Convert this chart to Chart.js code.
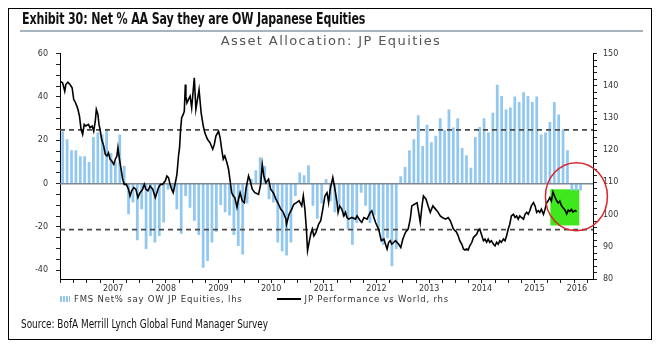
<!DOCTYPE html>
<html>
<head>
<meta charset="utf-8">
<script src="https://cdn.jsdelivr.net/npm/chart.js@4.4.1/dist/chart.umd.min.js"></script>
<style>
  html, body { margin: 0; padding: 0; background: #fff; }
  .page { position: relative; width: 662px; height: 346px; overflow: hidden; }
  .frame { position: absolute; left: 8px; top: 8px; width: 644px; height: 332px; border: 1px solid #000; box-sizing: border-box; }
  .title { position: absolute; left: 22px; top: 9px; font: bold 16px 'Liberation Sans Narrow', 'DejaVu Sans Condensed', sans-serif; color: #111; white-space: nowrap; transform: scaleX(0.77); transform-origin: 0 0; letter-spacing: -0.2px; }
  .rule { position: absolute; left: 20px; top: 30px; width: 623px; height: 2px; background: #a6b3c1; }
  .legend { position: absolute; left: 60px; top: 294px; font: 8.5px 'DejaVu Sans', sans-serif; color: #333; white-space: nowrap; display: flex; align-items: center; letter-spacing: 0.8px; }
  .legend .bars { width: 10px; height: 6px; margin-right: 4px; background: repeating-linear-gradient(90deg, #92c8f0 0 2px, transparent 2px 3px); }
  .legend .line { width: 24px; height: 2px; margin: 0 4px 0 34px; background: #000; }
  .source { position: absolute; left: 21px; top: 317px; font: 11.5px 'Liberation Sans Narrow', 'DejaVu Sans Condensed', sans-serif; color: #111; white-space: nowrap; transform: scaleX(0.86); transform-origin: 0 0; }
  canvas { position: absolute; left: 0; top: 0; }
</style>
</head>
<body>
<div class="page">
  <canvas id="chart" width="662" height="346"></canvas>
  <div class="frame"></div>
  <div class="title">Exhibit 30: Net % AA Say they are OW Japanese Equities</div>
  <div class="rule"></div>
  <div class="legend">
    <span class="bars"></span><span>FMS Net% say OW JP Equities, lhs</span>
    <span class="line"></span><span>JP Performance vs World, rhs</span>
  </div>
  <div class="source">Source: BofA Merrill Lynch Global Fund Manager Survey</div>
</div>
<script>
// FMS: net % of asset allocators overweight Japanese equities, monthly from Jul 2006
const fmsFirstYear = 2006
const fmsFirstMonth = 7
const fmsNetOW = [
  24, 20.3, 15.2, 15.2, 12.5, 12.5, 9.8, 21.4, 23.4, 22.5, 25.2, 14, 10, 22.5, 8,
  -14, -8.6, -26, -11.7, -30, -24, -27, -24, -17.8, -2.5, -3, -11.7, -23, -5.5, -11, -17,
  -23.5, -38.6, -35.5, -27, -22, -9.7, -13, -14.6, -23.5, -28.6, -32.5, -9, 2, 6, 12, 8,
  -7, -8.6, -27, -31, -33, -27, -5.5, 5, 3.7, 8.3, -10, -16, -9, 2,
  -8, -13, -10, -15, -21, -28, -18, -4, -10, -18, -14.5, -20, -28, -25, -38, -30,
  3.2, 7.5, 15.2, 20.3, 31.4, 17.2, 27, 19, 22, 30, 24.5, 34, 25.8, 30, 16.3,
  13, 7.2, 21.4, 26, 30, 23.4, 32.5, 45.5, 40.3, 34, 35, 40, 37.5, 42, 40.3,
  37.5, 40, 22.5, 23.4, 28.3, 37.5, 31.7, 25, 15.2, -3, -3, -3
]

// JP performance vs World (rhs) as [year, value]
const perfSeries = [
  [2006.50,141.4],[2006.54,140.9],[2006.58,138.3],[2006.60,140.4],[2006.64,141.1],[2006.68,140.4],[2006.72,139.4],
  [2006.75,135.8],[2006.78,134.9],[2006.81,133.7],[2006.83,132.7],[2006.86,130.6],[2006.89,126.5],[2006.92,124.9],
  [2006.95,128],[2006.98,127.5],[2007.03,128],[2007.06,127],[2007.10,127.5],[2007.13,125.9],[2007.16,129],
  [2007.18,132.7],[2007.21,131.1],[2007.23,128],[2007.25,126.5],[2007.28,123.4],[2007.32,121.3],[2007.35,118.7],
  [2007.38,118.2],[2007.41,119.2],[2007.44,117.2],[2007.47,116.7],[2007.51,115.6],[2007.54,117.2],[2007.57,118.2],
  [2007.59,120.8],[2007.61,118.2],[2007.63,116.1],[2007.65,114.1],[2007.68,111],[2007.71,109.4],[2007.75,109.4],
  [2007.79,107.9],[2007.82,105.8],[2007.85,107.4],[2007.89,108.4],[2007.93,107.9],[2007.97,105.3],[2008.01,106.8],
  [2008.06,107.9],[2008.09,109.4],[2008.12,107.9],[2008.16,107.4],[2008.20,108.9],[2008.25,107.9],[2008.30,105.3],
  [2008.33,106.8],[2008.36,108.4],[2008.40,109.4],[2008.44,109.4],[2008.49,110.5],[2008.52,112],[2008.55,111.5],
  [2008.58,109.4],[2008.61,107.9],[2008.64,106.8],[2008.68,109.9],[2008.71,112.5],[2008.74,118.2],[2008.76,120.8],
  [2008.78,126.5],[2008.80,130.1],[2008.83,131.1],[2008.85,132.1],[2008.87,140.4],[2008.88,136.8],[2008.90,134.7],
  [2008.93,135.8],[2008.96,136.8],[2008.99,133.2],[2009.04,142.5],[2009.07,132.7],[2009.13,138.8],[2009.17,131.6],
  [2009.21,127.5],[2009.24,125.4],[2009.29,123.4],[2009.34,122.3],[2009.39,120.3],[2009.42,121.8],[2009.45,124.4],
  [2009.50,125.9],[2009.53,123.9],[2009.56,120.3],[2009.59,117.2],[2009.62,118.2],[2009.66,116.1],[2009.69,114.1],
  [2009.72,110.5],[2009.75,106.8],[2009.78,105.8],[2009.81,105.3],[2009.85,102.2],[2009.88,104.8],[2009.91,106.8],
  [2009.95,104.3],[2009.99,103.7],[2010.02,107.9],[2010.07,112],[2010.10,110.5],[2010.14,107.9],[2010.19,106.8],
  [2010.26,106.3],[2010.30,109.4],[2010.33,115.6],[2010.36,112],[2010.40,109.9],[2010.45,111],[2010.49,107.9],
  [2010.54,106.8],[2010.59,104.8],[2010.64,103.2],[2010.68,101.7],[2010.73,100.7],[2010.78,98.6],[2010.79,97],
  [2010.84,100.1],[2010.89,101.7],[2010.93,103.2],[2010.98,103.7],[2011.03,104.3],[2011.08,102.7],[2011.11,105.8],
  [2011.14,101.7],[2011.17,95],[2011.19,88.8],[2011.22,91.4],[2011.25,93.9],[2011.28,95.5],[2011.31,93.4],
  [2011.35,94.5],[2011.40,97],[2011.44,98.1],[2011.48,101.7],[2011.52,105.8],[2011.56,106.8],[2011.59,103.7],
  [2011.62,107.9],[2011.67,111.5],[2011.71,107.9],[2011.75,103.7],[2011.77,100.7],[2011.80,102.7],[2011.84,101.7],
  [2011.88,99.6],[2011.91,100.7],[2011.94,99.1],[2011.97,98.6],[2012.03,99.1],[2012.10,98.6],[2012.13,99.6],
  [2012.19,98.1],[2012.22,97.6],[2012.26,99.1],[2012.32,98.6],[2012.38,100.7],[2012.41,101.2],[2012.45,99.1],
  [2012.48,97.6],[2012.51,96.5],[2012.54,95.5],[2012.59,91.9],[2012.64,92.4],[2012.67,90.8],[2012.70,89.3],
  [2012.73,91.4],[2012.76,91.9],[2012.79,90.8],[2012.86,91.9],[2012.92,90.8],[2012.96,89.8],[2013.00,92.4],
  [2013.05,94.5],[2013.10,95.5],[2013.14,98.6],[2013.17,102.7],[2013.22,103.2],[2013.27,103.7],[2013.30,100.7],
  [2013.33,97.6],[2013.36,102.2],[2013.39,105.8],[2013.44,104.8],[2013.48,102.7],[2013.52,100.7],[2013.57,102.7],
  [2013.62,101.7],[2013.67,100.7],[2013.71,99.6],[2013.75,99.1],[2013.81,98.6],[2013.86,99.1],[2013.90,98.1],
  [2013.96,95.5],[2014.02,94.5],[2014.05,93.4],[2014.08,91.9],[2014.12,90.8],[2014.15,89.3],[2014.18,89],
  [2014.21,89.3],[2014.24,89],[2014.27,90.3],[2014.31,91.4],[2014.34,92.9],[2014.37,93.4],[2014.40,93.9],
  [2014.43,95],[2014.46,95.5],[2014.50,93.4],[2014.53,91.9],[2014.56,92.4],[2014.59,91.4],[2014.62,92.4],
  [2014.65,91.4],[2014.68,91.9],[2014.72,90.8],[2014.75,90.3],[2014.78,91.4],[2014.81,90.8],[2014.84,91.9],
  [2014.87,91.4],[2014.91,92.4],[2014.94,91.9],[2014.97,93.4],[2015.00,95.5],[2015.03,97],[2015.06,99.6],
  [2015.10,100.1],[2015.13,99.1],[2015.16,99.6],[2015.19,98.6],[2015.22,99.6],[2015.25,99.1],[2015.29,98.6],
  [2015.32,100.1],[2015.35,100.7],[2015.38,100.1],[2015.41,101.2],[2015.44,102.7],[2015.48,103.7],[2015.51,102.7],
  [2015.54,100.7],[2015.57,101.2],[2015.60,100.7],[2015.63,101.7],[2015.67,100.1],[2015.70,101.7],[2015.73,103.7],
  [2015.76,104.3],[2015.79,105.3],[2015.82,104.2],[2015.85,107],[2015.89,105.3],[2015.92,104.3],[2015.95,103.6],
  [2015.98,104.2],[2016.01,102.8],[2016.04,102.1],[2016.08,101.4],[2016.11,100.2],[2016.14,101.4],[2016.17,101],
  [2016.20,101.6],[2016.23,100.8],[2016.27,101.3],[2016.30,100.9]
]

// tick labels
const years = [2007, 2008, 2009, 2010, 2011, 2012, 2013, 2014, 2015, 2016]
const lhsLabels = [-40, -20, 0, 20, 40, 60]
const rhsLabels = [80, 90, 100, 110, 120, 130, 140, 150]

// reference levels on lhs (long-run average +/- 1sd)
const bandHigh = 24.8
const bandLow = -21.2

// highlighted last months (green box) on lhs scale
const focusFrom = 2015.8
const focusTo = 2016.35
const focusTop = -2.6
const focusBottom = -19.3

const xMin = 2006.49
const xMax = 2016.61

const barPoints = fmsNetOW.map((v, i) => ({ x: fmsFirstYear + (fmsFirstMonth - 1 + i + 0.5) / 12, y: v }))
const perfPoints = perfSeries.map(([x, y]) => ({ x, y }))

const yearLabelAt = (scale, value) => {
  const y = years.find(y => Math.abs((Math.max(y, scale.min) + Math.min(y + 1, scale.max)) / 2 - value) < 1e-6)
  return y ? String(y) : ''
}

const guides = {
  id: 'guides',
  beforeDraw(chart) {
    // the subtitle is letter-spaced in the original
    const t = chart.titleBlock
    if (t && !t._spaced) {
      const draw = t.draw.bind(t)
      t.draw = (...a) => {
        chart.ctx.save()
        chart.ctx.letterSpacing = '1.4px'
        draw(...a)
        chart.ctx.restore()
      }
      t._spaced = true
    }
  },
  beforeDatasetsDraw(chart) {
    const { ctx, scales: { x, y } } = chart
    const l = x.getPixelForValue(focusFrom)
    const r = x.getPixelForValue(focusTo)
    const t = y.getPixelForValue(focusTop)
    const b = y.getPixelForValue(focusBottom)
    ctx.save()
    ctx.fillStyle = '#3ee81c'
    ctx.fillRect(l, t, r - l, b - t)
    ctx.restore()
  },
  afterDatasetDraw(chart, args) {
    if (args.index !== 0) return
    const { ctx, chartArea, scales: { y } } = chart
    ctx.save()
    // zero line
    ctx.strokeStyle = '#7f8892'
    ctx.lineWidth = 1.5
    ctx.beginPath()
    ctx.moveTo(chartArea.left, y.getPixelForValue(0))
    ctx.lineTo(chartArea.right, y.getPixelForValue(0))
    ctx.stroke()
    // dashed bands
    ctx.strokeStyle = '#4a4a4a'
    ctx.lineWidth = 1.8
    ctx.setLineDash([5, 4])
    ;[bandHigh, bandLow].forEach(v => {
      const py = y.getPixelForValue(v)
      ctx.beginPath()
      ctx.moveTo(chartArea.left, py)
      ctx.lineTo(chartArea.right, py)
      ctx.stroke()
    })
    ctx.restore()
  },
  afterDraw(chart) {
    const { ctx, scales: { x, y } } = chart
    const cx = x.getPixelForValue((focusFrom + focusTo) / 2 + 0.22)
    const cy = y.getPixelForValue(-6)
    ctx.save()
    ctx.strokeStyle = '#d8262c'
    ctx.lineWidth = 1.5
    ctx.beginPath()
    ctx.ellipse(cx, cy, 31, 34, 0, 0, Math.PI * 2)
    ctx.stroke()
    ctx.restore()
  }
}

const tickFont = { family: "'DejaVu Sans', sans-serif", size: 8 }

new Chart(document.getElementById('chart'), {
  type: 'bar',
  data: {
    datasets: [
      {
        type: 'bar',
        label: 'FMS Net% say OW JP Equities, lhs',
        data: barPoints,
        yAxisID: 'y',
        backgroundColor: '#92c8f0',
        barThickness: 2.1,
        order: 2,
      },
      {
        type: 'line',
        label: 'JP Performance vs World, rhs',
        data: perfPoints,
        yAxisID: 'y2',
        borderColor: '#000',
        borderWidth: 1.6,
        pointRadius: 0,
        tension: 0,
        order: 1,
      },
    ],
  },
  options: {
    responsive: false,
    animation: false,
    layout: { padding: { top: 33, bottom: 54, left: 0, right: 0 } },
    plugins: {
      legend: { display: false },
      tooltip: { enabled: false },
      title: {
        display: true,
        text: 'Asset Allocation: JP Equities',
        color: '#555',
        font: { family: "'DejaVu Sans', sans-serif", size: 13, weight: 'normal' },
        padding: { top: 1, bottom: 4 },
      },
    },
    scales: {
      x: {
        type: 'linear',
        min: xMin,
        max: xMax,
        offset: false,
        grid: { display: true, drawOnChartArea: false, offset: false, tickLength: 4,
          tickColor: ctx => (ctx.tick && ctx.tick.labelOnly ? 'rgba(0,0,0,0)' : '#222') },
        border: { color: '#000', width: 1 },
        afterBuildTicks: scale => {
          const ticks = []
          for (let q = Math.ceil(scale.min * 4) / 4; q <= scale.max; q += 0.25) ticks.push({ value: q })
          years.forEach(y => {
            const mid = (Math.max(y, scale.min) + Math.min(y + 1, scale.max)) / 2
            if (!ticks.some(t => Math.abs(t.value - mid) < 1e-6)) ticks.push({ value: mid, labelOnly: true })
          })
          ticks.sort((a, b) => a.value - b.value)
          scale.ticks = ticks
        },
        afterFit: scale => { scale.height = 13 },
        ticks: {
          autoSkip: false,
          maxRotation: 0,
          padding: 1,
          color: '#333',
          font: tickFont,
          callback: function (value) { return yearLabelAt(this, value) },
        },
      },
      y: {
        position: 'left',
        min: -44,
        max: 60,
        grid: { drawOnChartArea: false, tickLength: 4, tickColor: '#222' },
        border: { color: '#000', width: 1 },
        afterBuildTicks: scale => {
          const ticks = []
          for (let v = -40; v <= 60; v += 5) ticks.push({ value: v })
          scale.ticks = ticks
        },
        afterFit: scale => { scale.width = 60 },
        ticks: {
          autoSkip: false,
          padding: 8,
          color: '#333',
          font: tickFont,
          callback: v => (lhsLabels.includes(v) ? String(v) : ''),
        },
      },
      y2: {
        position: 'right',
        min: 80,
        max: 150,
        grid: { drawOnChartArea: false, tickLength: 4, tickColor: '#222' },
        border: { color: '#000', width: 1 },
        afterBuildTicks: scale => {
          const ticks = []
          for (let v = 80; v <= 150; v += 2) ticks.push({ value: v })
          scale.ticks = ticks
        },
        afterFit: scale => { scale.width = 69 },
        ticks: {
          autoSkip: false,
          padding: 6,
          color: '#333',
          font: tickFont,
          callback: v => (rhsLabels.includes(v) ? String(v) : ''),
        },
      },
    },
  },
  plugins: [guides],
})
</script>
</body>
</html>
